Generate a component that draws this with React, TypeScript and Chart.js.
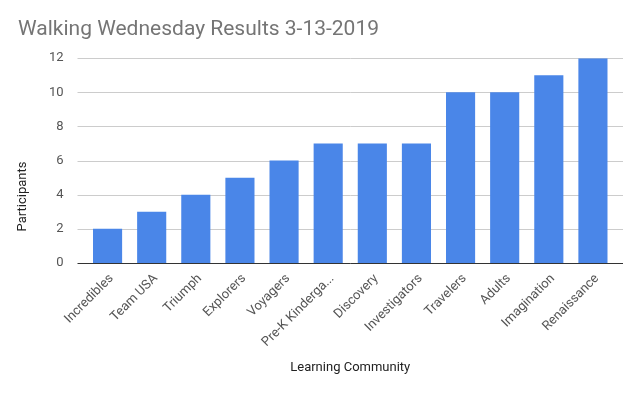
import React, { useEffect, useRef } from "react";
import { Chart, registerables } from "chart.js";

Chart.register(...registerables);

const chartTitle = "Walking Wednesday Results 3-13-2019";
const xAxisTitle = "Learning Community";
const yAxisTitle = "Participants";
const categories = [
  "Incredibles",
  "Team USA",
  "Triumph",
  "Explorers",
  "Voyagers",
  "Pre-K Kindergarten",
  "Discovery",
  "Investigators",
  "Travelers",
  "Adults",
  "Imagination",
  "Renaissance",
];
const participants = [2, 3, 4, 5, 6, 7, 7, 7, 10, 10, 11, 12];
const yMin = 0;
const yMax = 12;
const yStep = 2;

const FONT = "Roboto, 'Noto Sans', Arial, sans-serif";

const gridPlugin = {
  id: "gsGrid",
  beforeDatasetsDraw(chart: any) {
    const { ctx, chartArea } = chart;
    const y = chart.scales.y;
    ctx.save();
    ctx.lineWidth = 1;
    ctx.strokeStyle = "#cccccc";
    y.ticks.forEach((t: any) => {
      if (t.value === 0) return;
      const py = Math.round(y.getPixelForValue(t.value)) + 0.5;
      ctx.beginPath();
      ctx.moveTo(chartArea.left - 8, py);
      ctx.lineTo(chartArea.right + 8, py);
      ctx.stroke();
    });
    ctx.restore();
  },
  afterDatasetsDraw(chart: any) {
    const { ctx, chartArea } = chart;
    const y = chart.scales.y;
    ctx.save();
    ctx.lineWidth = 1;
    ctx.strokeStyle = "#333333";
    const py = Math.round(y.getPixelForValue(0)) + 0.5;
    ctx.beginPath();
    ctx.moveTo(chartArea.left - 8, py);
    ctx.lineTo(chartArea.right + 8, py);
    ctx.stroke();
    // vertical axis title
    ctx.translate(23, chart.height / 2);
    ctx.rotate(-Math.PI / 2);
    ctx.fillStyle = "#222222";
    ctx.font = `13px ${FONT}`;
    ctx.textAlign = "center";
    ctx.textBaseline = "middle";
    ctx.fillText(yAxisTitle, 0, 0);
    ctx.restore();
  },
};

export default function App() {
  const ref = useRef<HTMLCanvasElement>(null);
  useEffect(() => {
    if (!ref.current) return;
    const chart = new Chart(ref.current, {
      type: "bar",
      data: {
        labels: categories,
        datasets: [
          {
            label: yAxisTitle,
            data: participants,
            backgroundColor: "#4a86e8",
            borderWidth: 0,
            barPercentage: 0.66,
            categoryPercentage: 1,
          },
        ],
      },
      options: {
        responsive: false,
        animation: false,
        layout: { padding: { left: 18, right: 25, top: 0, bottom: 0 } },
        plugins: {
          legend: { display: false },
          tooltip: { enabled: false },
          title: {
            display: true,
            text: chartTitle,
            align: "start",
            color: "#757575",
            font: { family: FONT, size: 21, weight: "normal" },
            padding: { top: 17, bottom: 16 },
          },
        },
        scales: {
          x: {
            grid: { display: false },
            border: { display: false },
            ticks: {
              autoSkip: false,
              maxRotation: 45,
              minRotation: 45,
              color: "#555555",
              padding: 0,
              labelOffset: 4,
              font: { family: FONT, size: 13 },
              callback: function (this: any, v: any) {
                const s = this.getLabelForValue(v) as string;
                return s.length > 16 ? s.slice(0, 14) + "..." : s;
              },
            },
            title: {
              display: true,
              text: xAxisTitle,
              color: "#222222",
              font: { family: FONT, size: 13 },
              padding: { top: 0, bottom: 17 },
            },
            afterFit(scale: any) {
              scale.height = 130;
            },
          },
          y: {
            min: yMin,
            max: yMax,
            grid: { display: false },
            border: { display: false },
            ticks: {
              stepSize: yStep,
              color: "#555555",
              padding: 14,
              font: { family: FONT, size: 13 },
            },
            afterFit(scale: any) {
              scale.width = 67.5;
            },
          },
        },
      },
      plugins: [gridPlugin],
    });
    return () => chart.destroy();
  }, []);
  return (
    <div style={{ position: "fixed", left: 0, top: 0, width: 640, height: 393, background: "#fff" }}>
      <canvas ref={ref} width={640} height={393} />
    </div>
  );
}
